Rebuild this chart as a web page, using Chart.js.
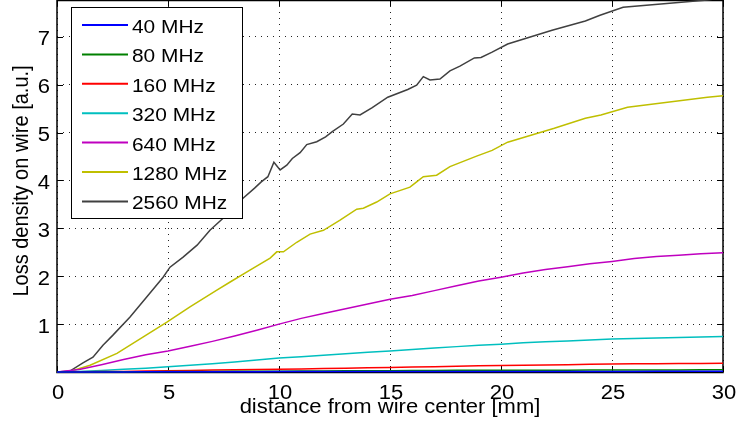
<!DOCTYPE html>
<html>
<head>
<meta charset="utf-8">
<script src="https://cdn.jsdelivr.net/npm/chart.js@4"></script>
<style>
  html, body { margin: 0; padding: 0; background: #fff; }
  #wrap { width: 739px; height: 426px; }
</style>
</head>
<body>
<div id="wrap"><canvas id="mycanvas" width="739" height="426"></canvas></div>
<script>
// series labels and colours
var labels = ["40 MHz", "80 MHz", "160 MHz", "320 MHz", "640 MHz", "1280 MHz", "2560 MHz"];
var colors = ["#0000ff", "#008000", "#ff0000", "#00bfbf", "#bf00bf", "#bfbf00", "#404040"];

// distance [mm] for the smooth curves
var distX = [0,1,2,3,4,5,6,7,8,9,10,11,12,13,14,15,16,17,18,19,20,21,22,23,24,25,26,27,28,29,30];

var loss40  = [0,0.0005,0.001,0.002,0.003,0.004,0.005,0.006,0.007,0.0075,0.008,0.0085,0.009,0.0095,0.010,0.0105,0.011,0.0112,0.0114,0.0116,0.0118,0.012,0.0122,0.0124,0.0126,0.0128,0.013,0.0131,0.0132,0.0133,0.0134];
var loss80  = [0,0.001,0.002,0.004,0.006,0.008,0.010,0.012,0.014,0.016,0.018,0.020,0.022,0.024,0.026,0.028,0.030,0.032,0.034,0.035,0.036,0.037,0.038,0.039,0.040,0.041,0.042,0.043,0.044,0.045,0.046];
var loss160 = [0,0.003,0.008,0.013,0.02,0.026,0.033,0.04,0.046,0.052,0.058,0.065,0.072,0.08,0.088,0.096,0.104,0.112,0.12,0.128,0.135,0.142,0.148,0.154,0.16,0.165,0.17,0.173,0.176,0.179,0.182];
var loss320 = [0,0.01,0.03,0.06,0.08,0.11,0.14,0.17,0.21,0.25,0.29,0.32,0.35,0.38,0.41,0.44,0.47,0.50,0.53,0.56,0.58,0.61,0.63,0.65,0.67,0.69,0.70,0.71,0.72,0.73,0.74];
var loss640 = [0,0.05,0.15,0.26,0.36,0.44,0.54,0.64,0.75,0.87,1.0,1.12,1.22,1.32,1.42,1.52,1.60,1.70,1.80,1.90,1.98,2.07,2.14,2.20,2.26,2.31,2.37,2.41,2.44,2.47,2.49];

// the two upper curves have small wiggles, so they keep their own x values
var x1280 = [0,0.58,1.49,2.7,3.87,4.95,5.99,7.2,7.8,8.69,9.6,9.9,10.2,10.8,11.4,12.0,12.75,13.5,13.8,14.4,15.0,15.9,16.2,16.5,17.1,17.7,18.9,19.6,20.3,22.4,23.8,24.5,25.7,29.3,30];
var loss1280 = [0,0.01,0.14,0.39,0.73,1.04,1.36,1.71,1.88,2.13,2.38,2.51,2.51,2.71,2.88,2.96,3.17,3.40,3.42,3.55,3.72,3.86,3.97,4.08,4.11,4.29,4.51,4.63,4.80,5.09,5.30,5.37,5.53,5.74,5.77];

var x2560 = [0,0.58,1.17,1.62,2.07,2.52,3.29,4.05,4.78,5.09,5.68,6.31,6.89,7.48,8.38,8.9,9.2,9.5,9.77,10.05,10.35,10.6,10.95,11.25,11.7,12.1,12.4,12.9,13.3,13.65,14.2,14.9,15.8,16.2,16.5,16.8,17.25,17.7,18.15,18.8,19.1,19.6,20.3,22.3,23.8,24.46,25.5,29.3,30];
var loss2560 = [0,0.02,0.19,0.31,0.56,0.77,1.15,1.57,1.98,2.19,2.40,2.65,2.96,3.21,3.63,3.84,3.97,4.08,4.38,4.22,4.32,4.46,4.58,4.75,4.81,4.91,5.02,5.18,5.39,5.37,5.52,5.74,5.90,5.99,6.17,6.10,6.12,6.29,6.39,6.56,6.57,6.68,6.85,7.14,7.33,7.45,7.62,7.77,7.82];

var xTicks = [0,5,10,15,20,25,30];
var yTicks = [1,2,3,4,5,6,7];
var xTitle = 'distance from wire center [mm]';
var yTitle = 'Loss density on wire [a.u.]';

function pts(xs, ys) {
    var out = [];
    for (var i = 0; i < xs.length; i++) out.push({x: xs[i], y: ys[i]});
    return out;
}

var seriesData = [
    pts(distX, loss40), pts(distX, loss80), pts(distX, loss160),
    pts(distX, loss320), pts(distX, loss640), pts(x1280, loss1280), pts(x2560, loss2560)
];

var datasets = [];
for (var k = 0; k < labels.length; k++) {
    datasets.push({
        label: labels[k],
        data: seriesData[k],
        borderColor: colors[k],
        backgroundColor: colors[k],
        borderWidth: 1.5,
        pointRadius: 0,
        fill: false,
        tension: 0,
        clip: {left: 0, top: 0, right: 0, bottom: 2}
    });
}

var fontName = "'Liberation Sans', Arial, Helvetica, sans-serif";
var SX = 1.1; // the source picture is a bit wider than tall, text too

function wideText(c, txt, x, y, align) {
    c.save();
    c.translate(x, y);
    c.scale(SX, 1);
    c.textAlign = align;
    c.fillText(txt, 0, 0);
    c.restore();
}

// box, inward ticks, labels and the legend in the top left corner
var matlabLook = {
    id: 'matlabLook',
    beforeDatasetsDraw: function(chart) {
        var c = chart.ctx, a = chart.chartArea;
        var xs = chart.scales.x, ys = chart.scales.y;
        c.save();
        c.strokeStyle = '#000';
        c.lineWidth = 1;
        c.beginPath();
        xTicks.forEach(function(v) {
            var px = Math.round(xs.getPixelForValue(v)) + 0.5;
            c.moveTo(px, a.bottom); c.lineTo(px, a.bottom - 6);
            c.moveTo(px, a.top); c.lineTo(px, a.top + 6);
        });
        yTicks.forEach(function(v) {
            var py = Math.round(ys.getPixelForValue(v)) + 0.5;
            c.moveTo(a.left, py); c.lineTo(a.left + 6, py);
            c.moveTo(a.right, py); c.lineTo(a.right - 6, py);
        });
        c.stroke();
        c.lineWidth = 1.5;
        c.strokeRect(a.left, a.top + 0.5, a.right - a.left, a.bottom - a.top);

        // tick labels and axis titles
        c.fillStyle = '#000';
        c.font = '20px ' + fontName;
        c.textBaseline = 'alphabetic';
        xTicks.forEach(function(v) {
            wideText(c, String(v), xs.getPixelForValue(v) + 1, a.bottom + 27, 'center');
        });
        yTicks.forEach(function(v) {
            wideText(c, String(v), a.left - 7, ys.getPixelForValue(v) + 8.5, 'right');
        });
        wideText(c, xTitle, (a.left + a.right) / 2, a.bottom + 41, 'center');
        c.save();
        c.translate(28, (a.top + a.bottom) / 2 - 5);
        c.scale(SX, 1);
        c.rotate(-Math.PI / 2);
        c.textAlign = 'center';
        c.fillText(yTitle, 0, 0);
        c.restore();
        c.restore();
    },
    afterDatasetsDraw: function(chart) {
        var c = chart.ctx, a = chart.chartArea;
        c.save();
        var lx = a.left + 14, ly = a.top + 7, lw = 171, lh = 211;
        c.fillStyle = '#fff';
        c.fillRect(lx, ly, lw, lh);
        c.lineWidth = 1;
        c.strokeStyle = '#000';
        c.strokeRect(lx + 0.5, ly + 0.5, lw, lh);
        c.font = '19px ' + fontName;
        c.textBaseline = 'alphabetic';
        for (var i = 0; i < labels.length; i++) {
            var yy = ly + 18 + i * 29.4;
            c.strokeStyle = colors[i];
            c.lineWidth = 2;
            c.beginPath();
            c.moveTo(lx + 11, yy); c.lineTo(lx + 57, yy);
            c.stroke();
            c.fillStyle = '#000';
            wideText(c, labels[i], lx + 61, yy + 8, 'left');
        }
        c.restore();
    }
};

var ctx = document.getElementById('mycanvas');
var LineGraph = new Chart(ctx, {
    type: 'line',
    data: { datasets: datasets },
    plugins: [matlabLook],
    options: {
        responsive: false,
        animation: false,
        layout: { padding: { top: 0, right: 16, left: 0, bottom: 0 } },
        plugins: { legend: { display: false }, tooltip: { enabled: false } },
        scales: {
            x: {
                type: 'linear',
                min: 0, max: 30,
                afterFit: function(s) { s.height = 54; s.paddingLeft = 0; s.paddingRight = 0; },
                afterBuildTicks: function(s) { s.ticks = xTicks.map(function(v) { return {value: v}; }); },
                ticks: { display: false },
                grid: { color: '#222', lineWidth: 1, drawTicks: false },
                border: { display: false, dash: [1, 5] }
            },
            y: {
                type: 'linear',
                min: 0, max: 7.77,
                afterFit: function(s) { s.width = 57; s.paddingTop = 0; s.paddingBottom = 0; },
                afterBuildTicks: function(s) { s.ticks = yTicks.map(function(v) { return {value: v}; }); },
                ticks: { display: false },
                grid: { color: '#222', lineWidth: 1, drawTicks: false },
                border: { display: false, dash: [1, 5] }
            }
        }
    }
});
</script>
</body>
</html>
